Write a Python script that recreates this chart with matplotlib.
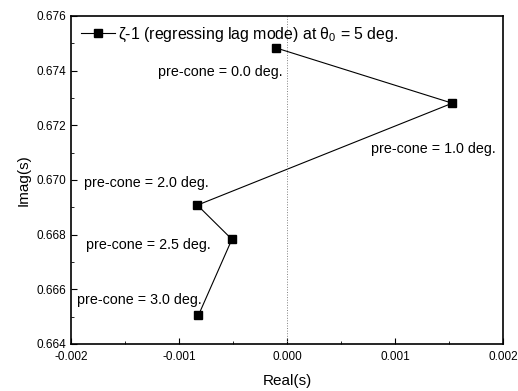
import matplotlib
matplotlib.use("Agg")
import matplotlib.pyplot as plt
from matplotlib.ticker import MultipleLocator, FormatStrFormatter

plt.rcParams['font.family'] = ['Liberation Sans', 'DejaVu Sans']
plt.rcParams['mathtext.fontset'] = 'custom'
plt.rcParams['mathtext.rm'] = 'Liberation Sans'

# eigenvalues of the regressing lag mode for each pre-cone angle
real_part = [-0.00010, 0.00153, -0.00083, -0.00051, -0.00082]
imag_part = [0.67483, 0.67281, 0.66908, 0.66783, 0.66505]
precone = ['0.0', '1.0', '2.0', '2.5', '3.0']
label_x = [-0.00119, 0.00078, -0.00188, -0.00186, -0.00194]
label_y = [0.67395, 0.67113, 0.66988, 0.66761, 0.66560]

fig = plt.figure(figsize=(5.18, 3.91), dpi=100)
ax = fig.add_axes([71 / 518, 1 - 344 / 391, 432 / 518, 328 / 391])

ax.plot(real_part, imag_part, color='black', lw=0.8, marker='s', ms=5.5,
        label='ζ-1 (regressing lag mode) at θ$_\\mathrm{0}$ = 5 deg.')
ax.axvline(0.0, color='gray', lw=0.7, ls=':')

for i, pc in enumerate(precone):
    ax.text(label_x[i], label_y[i], f'pre-cone = {pc} deg.', fontsize=10.3, va='center', ha='left')

ax.set_xlim(-0.002, 0.002)
ax.set_ylim(0.664, 0.676)
ax.xaxis.set_major_locator(MultipleLocator(0.001))
ax.xaxis.set_minor_locator(MultipleLocator(0.0005))
ax.yaxis.set_major_locator(MultipleLocator(0.002))
ax.yaxis.set_minor_locator(MultipleLocator(0.001))
ax.xaxis.set_major_formatter(FormatStrFormatter('%.3f'))
ax.yaxis.set_major_formatter(FormatStrFormatter('%.3f'))
ax.tick_params(which='both', direction='in', labelsize=8.5)
ax.tick_params(which='major', length=4)
ax.tick_params(which='minor', length=2.5)
ax.tick_params(axis='x', pad=5)
for s in ax.spines.values():
    s.set_linewidth(1.2)

ax.set_xlabel('Real(s)', fontsize=11, labelpad=8)
ax.set_ylabel('Imag(s)', fontsize=11, labelpad=4)

ax.legend(loc='upper left', frameon=False, fontsize=11.4, handlelength=2.2,
          borderaxespad=0.2, handletextpad=0.2)

fig.savefig('out.png', dpi=100)
